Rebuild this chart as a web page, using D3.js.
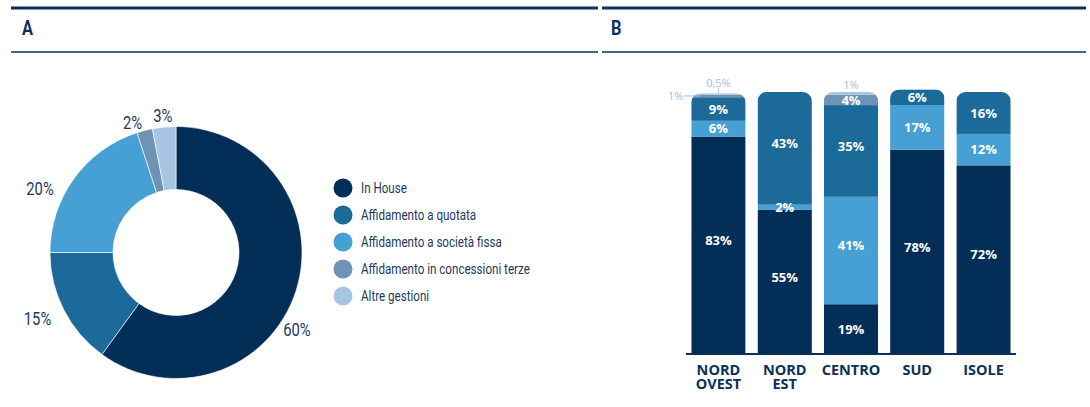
<!DOCTYPE html>
<html>
<head>
<meta charset="utf-8">
<script src="https://cdn.jsdelivr.net/npm/d3@7"></script>
<style>
  html, body { margin: 0; padding: 0; background: #fff; }
  svg { display: block; }
  .narrow { font-family: "Roboto", "Liberation Sans", sans-serif; }
  .sans { font-family: "Open Sans", "Noto Sans", sans-serif; }
</style>
</head>
<body>
<svg id="chart" width="1090" height="407"></svg>
<script>
// Panel A: distribution of management types (donut)
const types = ["In House", "Affidamento a quotata", "Affidamento a società fissa",
               "Affidamento in concessioni terze", "Altre gestioni"];
const typeColors = ["#022e58", "#1b6a9a", "#47a0d4", "#6f93b4", "#a8c4e3"];
const shareTotal = [60, 15, 20, 2, 3];
const shareLabels = ["60%", "15%", "20%", "2%", "3%"];

// Panel B: breakdown by macro-area (stacked bars, bottom to top in type order)
const areas = ["NORD OVEST", "NORD EST", "CENTRO", "SUD", "ISOLE"];
const inHouse   = [83, 55, 19, 78, 72];
const sFissa    = [6, 2, 41, 17, 12];
const quotata   = [9, 43, 35, 6, 16];
const concess   = [1, 0, 4, 0, 0];
const altre     = [0.5, 0, 1, 0, 0];
const areaLabels = [
  ["83%", "6%", "9%", "1%", "0,5%"],
  ["55%", "2%", "43%", "", ""],
  ["19%", "41%", "35%", "4%", "1%"],
  ["78%", "17%", "6%", "", ""],
  ["72%", "12%", "16%", "", ""]
];

const navy = "#0b3159";
const svg = d3.select("#chart");

// condensed text: regular face squeezed horizontally
function narrowText(parent, px, py, str, opts) {
  const g = parent.append("g")
    .attr("transform", `translate(${px},${py}) scale(${opts.sx || 0.8},1)`);
  return g.append("text").attr("class", "narrow")
    .attr("dy", opts.dy || "0.35em")
    .attr("text-anchor", opts.anchor || "start")
    .attr("font-size", opts.size)
    .attr("font-weight", opts.weight || 400)
    .attr("fill", opts.fill)
    .text(str);
}

// ---- header rules and panel letters
[[11, 598], [602, 1086]].forEach(([x1, x2]) => {
  svg.append("line").attr("x1", x1).attr("x2", x2).attr("y1", 8).attr("y2", 8)
    .attr("stroke", navy).attr("stroke-width", 3);
  svg.append("line").attr("x1", x1).attr("x2", x2).attr("y1", 52).attr("y2", 52)
    .attr("stroke", navy).attr("stroke-width", 1.6);
});
narrowText(svg, 22, 28, "A", { size: 21, weight: 700, fill: navy, sx: 0.78 });
narrowText(svg, 611, 28, "B", { size: 21, weight: 700, fill: navy, sx: 0.78 });

// ---- donut
const cx = 176, cy = 252.5, rOut = 126, rIn = 63;
const pie = d3.pie().sort(null).value(d => d);
const arcs = pie(shareTotal);
const arc = d3.arc().innerRadius(rIn).outerRadius(rOut);
const gPie = svg.append("g").attr("transform", `translate(${cx},${cy})`);
gPie.selectAll("path").data(arcs).join("path")
  .attr("d", arc)
  .attr("fill", (d, i) => typeColors[i])
  .attr("stroke", "#fff").attr("stroke-width", 0.6);

// outside labels placed along each slice's mid-angle
const labelArc = d3.arc().innerRadius(140).outerRadius(140);
const labelNudge = [[-26, 34], [0, 2], [-9, 18], [1, 5], [0, 2]];
arcs.forEach((d, i) => {
  const a = (d.startAngle + d.endAngle) / 2;
  const anchor = a > Math.PI * 1.93 ? "middle" : (a < Math.PI ? "start" : "end");
  const c = labelArc.centroid(d);
  narrowText(gPie, c[0] + labelNudge[i][0], c[1] + labelNudge[i][1], shareLabels[i],
    { size: 19, fill: "#1c3a62", anchor: anchor, sx: 0.78 });
});

// ---- legend
const legend = svg.append("g").attr("transform", "translate(343,188)");
types.forEach((t, i) => {
  const g = legend.append("g").attr("transform", `translate(0,${i * 27})`);
  g.append("circle").attr("r", 9.5).attr("fill", typeColors[i]);
  narrowText(g, 18, 0, t, { size: 14.5, fill: "#1c3a62", sx: 0.8 });
});

// ---- stacked bars
const series = [inHouse, sFissa, quotata, concess, altre];
const colorOrder = [typeColors[0], typeColors[2], typeColors[1], typeColors[3], typeColors[4]];
const x = d3.scaleBand().domain(areas).range([680, 1022]).paddingInner(0.18).paddingOuter(0.17);
const y = d3.scaleLinear().domain([0, 100]).range([354, 92]);

const rows = areas.map((a, i) => {
  const r = { area: a };
  series.forEach((s, k) => r["k" + k] = s[i]);
  return r;
});
const stack = d3.stack().keys(series.map((s, k) => "k" + k));
const stacked = stack(rows);

const defs = svg.append("defs");
areas.forEach((a, i) => {
  const total = d3.sum(series, s => s[i]);
  defs.append("clipPath").attr("id", "clip" + i)
    .append("rect")
    .attr("x", x(a)).attr("width", x.bandwidth())
    .attr("y", y(total)).attr("height", y(0) - y(total) + 20)
    .attr("rx", 9);
});

const gBars = svg.append("g");
stacked.forEach((layer, k) => {
  layer.forEach((seg, i) => {
    if (seg[1] - seg[0] <= 0) return;
    gBars.append("rect")
      .attr("clip-path", `url(#clip${i})`)
      .attr("x", x(areas[i])).attr("width", x.bandwidth())
      .attr("y", y(seg[1])).attr("height", y(seg[0]) - y(seg[1]))
      .attr("fill", colorOrder[k]);
  });
});

// value labels inside segments
const gVals = svg.append("g").attr("class", "sans");
stacked.forEach((layer, k) => {
  layer.forEach((seg, i) => {
    const v = seg[1] - seg[0];
    const lbl = areaLabels[i][k];
    if (!lbl || v < 2) return;
    const mid = (y(seg[0]) + y(seg[1])) / 2;
    const lift = v > 30 ? 5 : 0;
    gVals.append("text")
      .attr("x", x(areas[i]) + x.bandwidth() / 2)
      .attr("y", mid - lift).attr("dy", "0.36em")
      .attr("text-anchor", "middle")
      .attr("font-size", 13).attr("font-weight", 700).attr("fill", "#fff")
      .text(lbl);
  });
});

// callouts for the thin top segments
const callColor = "#a3bedd";
const gCall = svg.append("g").attr("class", "sans");
{
  const i = 0, bx = x(areas[i]);
  const segC = stacked[3][i], segA = stacked[4][i];
  const yc = (y(segC[0]) + y(segC[1])) / 2;
  gCall.append("line").attr("x1", bx - 7).attr("x2", bx + 9)
    .attr("y1", yc).attr("y2", yc).attr("stroke", callColor).attr("stroke-width", 1);
  gCall.append("text").attr("x", bx - 8).attr("y", yc).attr("dy", "0.35em")
    .attr("text-anchor", "end").attr("font-size", 11).attr("fill", callColor)
    .text(areaLabels[i][3]);
  const cxm = bx + x.bandwidth() / 2, ya = y(segA[1]);
  gCall.append("line").attr("x1", cxm).attr("x2", cxm).attr("y1", ya - 5).attr("y2", ya)
    .attr("stroke", callColor).attr("stroke-width", 1);
  gCall.append("text").attr("x", cxm).attr("y", ya - 6)
    .attr("text-anchor", "middle").attr("font-size", 11).attr("fill", callColor)
    .text(areaLabels[i][4]);
}
{
  const i = 2, seg = stacked[4][i];
  gCall.append("text").attr("x", x(areas[i]) + x.bandwidth() / 2).attr("y", y(seg[1]) - 3)
    .attr("text-anchor", "middle").attr("font-size", 11).attr("fill", callColor)
    .text(areaLabels[i][4]);
}

// baseline and category axis
const xAxis = svg.append("g").attr("transform", `translate(0,${y(0)})`)
  .call(d3.axisBottom(x).tickSize(0).tickFormat(""));
xAxis.select(".domain").attr("stroke", navy).attr("stroke-width", 2)
  .attr("d", "M686,0H1016");
areas.forEach(a => {
  const t = svg.append("text").attr("class", "sans")
    .attr("x", x(a) + x.bandwidth() / 2).attr("y", 375)
    .attr("text-anchor", "middle").attr("font-size", 14.5).attr("font-weight", 700)
    .attr("fill", navy);
  a.split(" ").forEach((w, j) => {
    t.append("tspan").attr("x", x(a) + x.bandwidth() / 2).attr("dy", j ? 13.5 : 0).text(w);
  });
});
</script>
</body>
</html>
